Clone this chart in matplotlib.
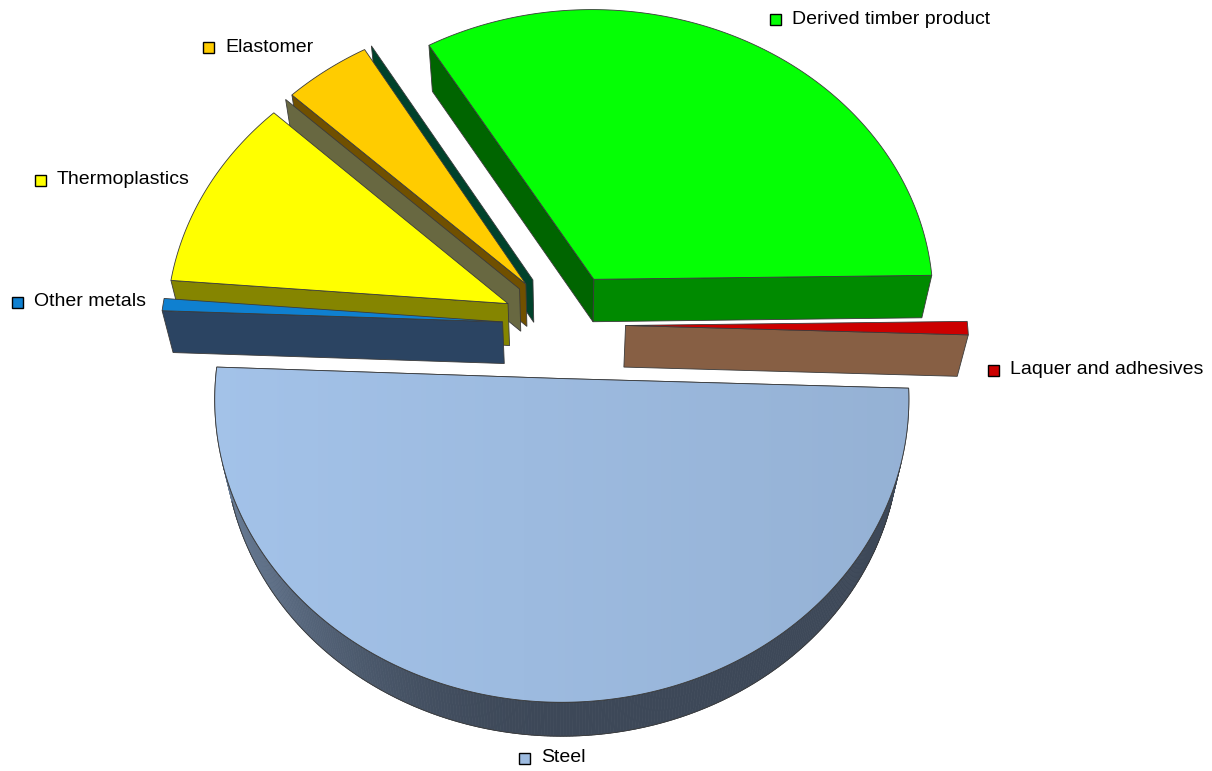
# exploded 3d pie of material shares, drawn with a small perspective projection

import numpy as np
import matplotlib.pyplot as plt
from matplotlib.patches import Polygon, Rectangle
from matplotlib.colors import to_rgb

# slices counter-clockwise from 3 o'clock; empty names are zero-value categories
categories = ["Derived timber product", "", "Elastomer", "", "Thermoplastics",
              "Other metals", "Steel", "Laquer and adhesives"]
shares = [33.3, 0.0, 4.45, 0.0, 10.75, 0.67, 50.1, 0.73]
start_angle = 0.8

top_colors = ["#05FF05", "#005A3B", "#FFCC00", "#7A7A4D", "#FFFF00",
              "#0F80D0", "#9DBBE0", "#CC0000"]
side_colors = ["#008A00", "#005A3B", "#845E00", "#7A7A4D", "#858500",
               "#2B4462", "#3D4858", "#875F44"]

# label layout: legend square centre (pixels)
label_pos = {"Derived timber product": (775, 19), "Elastomer": (208, 47),
             "Thermoplastics": (40, 180), "Other metals": (17, 302),
             "Laquer and adhesives": (993, 370), "Steel": (524, 758)}

# camera
cx, cy = 564, 325
scale = 342
dist = 7.5
elev = np.radians(59.3)
thick = 0.245
explode = 0.18
cam = np.array([0.0, -dist * np.cos(elev), dist * np.sin(elev)])
edge = "#3a3a3a"


def project(X, Y, Z):
    X, Y, Z = np.broadcast_arrays(np.atleast_1d(X), np.atleast_1d(Y), np.atleast_1d(Z))
    depth = dist + Y * np.cos(elev) - Z * np.sin(elev)
    xs = cx + scale * dist * X / depth
    ys = cy - scale * dist * (Y * np.sin(elev) + Z * np.cos(elev)) / depth
    return np.column_stack([xs, ys])


def shade(c, k):
    return tuple(min(v * k, 1) for v in to_rgb(c))


def mix(a, b, w):
    a, b = np.array(to_rgb(a)), np.array(to_rgb(b))
    return tuple(a * (1 - w) + b * w)


def facing(P, n):
    return np.dot(P - cam, n) < 0


fig = plt.figure(figsize=(12.12, 7.71), dpi=100)
ax = fig.add_axes([0, 0, 1, 1])
ax.set_xlim(0, 1212)
ax.set_ylim(771, 0)
ax.axis("off")

bounds = start_angle + 3.6 * np.concatenate([[0], np.cumsum(shares)])
order = []
for i in range(len(shares)):
    t1, t2 = np.radians(bounds[i]), np.radians(bounds[i + 1])
    m = (t1 + t2) / 2
    order.append(((0.5 + explode) * np.sin(m), i))
order.sort(reverse=True)

for _, i in order:
    t1, t2 = np.radians(bounds[i]), np.radians(bounds[i + 1])
    m = (t1 + t2) / 2
    ox, oy = explode * np.cos(m), explode * np.sin(m)

    # radial cut faces
    for t, n in [(t1, np.array([np.sin(t1), -np.cos(t1), 0])),
                 (t2, np.array([-np.sin(t2), np.cos(t2), 0]))]:
        P = np.array([ox + 0.5 * np.cos(t), oy + 0.5 * np.sin(t), -thick / 2])
        if not facing(P, n):
            continue
        X = [ox, ox + np.cos(t), ox + np.cos(t), ox]
        Y = [oy, oy + np.sin(t), oy + np.sin(t), oy]
        Z = [0, 0, -thick, -thick]
        k = 0.45 + 0.55 * (-n[1])
        ax.add_patch(Polygon(project(X, Y, Z), closed=True,
                             facecolor=shade(side_colors[i], k),
                             edgecolor=edge, lw=0.6, zorder=2))

    if t2 - t1 < 1e-6:
        continue

    # outer rim, front part only
    th = np.linspace(t1, t2, max(3, int(np.degrees(t2 - t1) * 2)))
    X = ox + np.cos(th)
    Y = oy + np.sin(th)
    vis = [(X[j] + X[j + 1]) / 2 * np.cos((th[j] + th[j + 1]) / 2)
           + ((Y[j] + Y[j + 1]) / 2 - cam[1]) * np.sin((th[j] + th[j + 1]) / 2) < 0
           for j in range(len(th) - 1)]
    for j in range(len(th) - 1):
        if not vis[j]:
            continue
        a = (th[j] + th[j + 1]) / 2
        w = 0.5 * max(0.0, -np.cos(a)) ** 2 if i == 6 else 0.0
        col = mix(side_colors[i], top_colors[i], w)
        q = project([X[j], X[j + 1], X[j + 1], X[j]],
                    [Y[j], Y[j + 1], Y[j + 1], Y[j]],
                    [0, 0, -thick, -thick])
        ax.add_patch(Polygon(q, closed=True, facecolor=col, edgecolor=col,
                             lw=0.5, zorder=2))
    if any(vis):
        idx = [j for j in range(len(th) - 1) if vis[j]]
        j0, j1 = idx[0], idx[-1] + 1
        bot = project(X[j0:j1 + 1], Y[j0:j1 + 1], -thick)
        ax.plot(bot[:, 0], bot[:, 1], color=edge, lw=0.6, zorder=2)

    # top face
    pts = project(np.concatenate([[ox], X]), np.concatenate([[oy], Y]), 0)
    poly = Polygon(pts, closed=True, facecolor=top_colors[i],
                   edgecolor=edge, lw=0.6, zorder=2)
    ax.add_patch(poly)
    if i == 6:
        # soft left-to-right light on the big slice
        base = np.array(to_rgb(top_colors[i]))
        g = np.linspace(1.04, 0.95, 256)
        img = np.clip(base[None, None, :] * g[None, :, None], 0, 1)
        x0, x1 = pts[:, 0].min(), pts[:, 0].max()
        y0, y1 = pts[:, 1].min(), pts[:, 1].max()
        im = ax.imshow(img, extent=(x0, x1, y1, y0), aspect="auto", zorder=2,
                       interpolation="bilinear")
        im.set_clip_path(poly)
        ax.add_patch(Polygon(pts, closed=True, fill=False, edgecolor=edge,
                             lw=0.6, zorder=2))

ax.set_xlim(0, 1212)
ax.set_ylim(771, 0)

# labels with colour keys
for i, name in enumerate(categories):
    if not name:
        continue
    x, y = label_pos[name]
    ax.add_patch(Rectangle((x - 5.5, y - 5.5), 11, 11, facecolor=top_colors[i],
                           edgecolor="black", lw=1.0, zorder=3))
    ax.text(x + 17, y, name, fontsize=14, family="Liberation Sans",
            va="center", ha="left", zorder=3)

fig.savefig("out.png", dpi=100)
